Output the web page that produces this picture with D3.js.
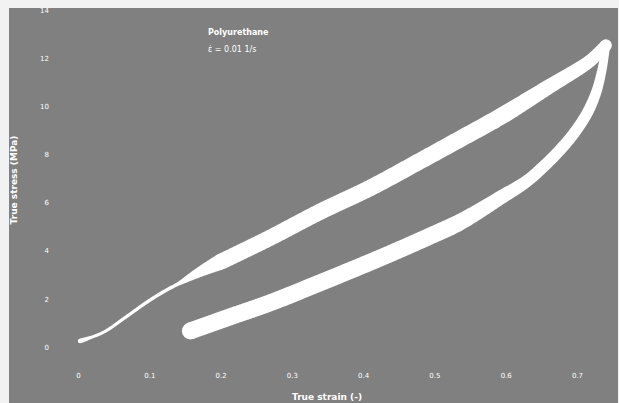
<!DOCTYPE html>
<html>
<head>
<meta charset="utf-8">
<script src="https://cdn.jsdelivr.net/npm/d3@7/dist/d3.min.js"></script>
<style>
  html, body { margin: 0; padding: 0; background: #f2f2f2; }
  svg { display: block; }
</style>
</head>
<body>
<svg id="chart" width="619" height="403"></svg>
<script>
// ---- data ----
const strainTicks = [0, 0.1, 0.2, 0.3, 0.4, 0.5, 0.6, 0.7];
const strainTickLabels = ["0", "0.1", "0.2", "0.3", "0.4", "0.5", "0.6", "0.7"];
const stressTicks = [0, 2, 4, 6, 8, 10, 12, 14];
const stressTickLabels = ["0", "2", "4", "6", "8", "10", "12", "14"];

const loadStrain = [0.003, 0.035, 0.066, 0.097, 0.122, 0.143, 0.171, 0.220, 0.269, 0.339, 0.410, 0.480, 0.536, 0.592, 0.662, 0.718, 0.741];
const loadStress = [0.25, 0.60, 1.22, 1.87, 2.33, 2.66, 3.12, 3.82, 4.53, 5.61, 6.61, 7.73, 8.64, 9.56, 10.84, 11.88, 12.55];

const unloadStrain = [0.741, 0.735, 0.727, 0.715, 0.697, 0.676, 0.651, 0.630, 0.592, 0.536, 0.494, 0.424, 0.339, 0.269, 0.213, 0.157];
const unloadStress = [12.55, 11.51, 10.59, 9.76, 8.93, 8.18, 7.44, 6.90, 6.19, 5.19, 4.61, 3.70, 2.66, 1.83, 1.25, 0.66];

const legendLines = ["Polyurethane", "ε̇ = 0.01 1/s"];
const xTitle = "True strain (-)";
const yTitle = "True stress (MPa)";

// ---- drawing ----
const svg = d3.select("#chart");
const W = 619, H = 403;

svg.append("rect").attr("x", 0).attr("y", 0).attr("width", W).attr("height", H).attr("fill", "#f2f2f2");
svg.append("rect").attr("x", 9).attr("y", 8).attr("width", 609).attr("height", H - 8).attr("fill", "#808080");

const x = d3.scaleLinear().domain([0, 0.7]).range([78, 577]);
const y = d3.scaleLinear().domain([0, 14]).range([347, 10]);

const FONT = "DejaVu Sans, sans-serif";

// axes
const xAxis = d3.axisBottom(x).tickValues(strainTicks)
  .tickFormat((d, i) => strainTickLabels[i]).tickSize(0).tickPadding(3);
const gx = svg.append("g").attr("transform", "translate(0,370)").call(xAxis);
gx.select(".domain").remove();
gx.selectAll("text").attr("fill", "#ffffff").style("font-family", FONT).style("font-size", "7px");

const yAxis = d3.axisLeft(y).tickValues(stressTicks)
  .tickFormat((d, i) => stressTickLabels[i]).tickSize(0).tickPadding(1);
const gy = svg.append("g").attr("transform", "translate(50,0)").call(yAxis);
gy.select(".domain").remove();
gy.selectAll("text").attr("fill", "#ffffff").style("font-family", FONT).style("font-size", "7px");

// axis titles
svg.append("text").attr("x", 327).attr("y", 400).attr("text-anchor", "middle")
  .attr("fill", "#ffffff").style("font-family", FONT)
  .style("font-size", "9px").style("font-weight", "bold").text(xTitle);
svg.append("text").attr("transform", "translate(17,180) rotate(-90)").attr("text-anchor", "middle")
  .attr("fill", "#ffffff").style("font-family", FONT)
  .style("font-size", "9px").style("font-weight", "bold").text(yTitle);

// legend / annotation
legendLines.forEach((t, i) => {
  svg.append("text").attr("x", 208).attr("y", 35 + i * 17)
    .attr("fill", "#ffffff").style("font-family", FONT)
    .style("font-size", "8px").style("font-weight", i === 0 ? "bold" : "normal")
    .text(t);
});

// curves drawn as ribbons whose width follows the band thickness
const line = d3.line().x(d => x(d[0])).y(d => y(d[1])).curve(d3.curveCatmullRom.alpha(0.5));

function drawRibbon(strain, stress, widthFn) {
  const pts = strain.map((s, i) => [s, stress[i]]);
  const guide = svg.append("path").attr("d", line(pts)).attr("fill", "none").attr("stroke", "none");
  const node = guide.node();
  const L = node.getTotalLength();
  const step = 1;
  const left = [], right = [];
  let first = null, last = null;
  for (let l = 0; l <= L; l += step) {
    const p = node.getPointAtLength(l);
    const p0 = node.getPointAtLength(Math.max(0, l - 1));
    const p1 = node.getPointAtLength(Math.min(L, l + 1));
    let dx = p1.x - p0.x, dy = p1.y - p0.y;
    const n = Math.hypot(dx, dy) || 1;
    dx /= n; dy /= n;
    const w = widthFn(x.invert(p.x), y.invert(p.y)) / 2;
    left.push([p.x - dy * w, p.y + dx * w]);
    right.push([p.x + dy * w, p.y - dx * w]);
    if (first === null) first = { x: p.x, y: p.y, r: w };
    last = { x: p.x, y: p.y, r: w };
  }
  guide.remove();
  const poly = left.concat(right.reverse());
  svg.append("path").attr("d", "M" + poly.map(p => p[0].toFixed(2) + "," + p[1].toFixed(2)).join("L") + "Z")
    .attr("fill", "#ffffff");
  [first, last].forEach(c => svg.append("circle").attr("cx", c.x).attr("cy", c.y).attr("r", c.r).attr("fill", "#ffffff"));
}

const loadW = d3.scaleLinear().domain([0, 0.02, 0.14, 0.165, 0.2, 0.6, 0.74]).range([5, 3, 3.5, 9, 16, 17, 12]).clamp(true);
drawRibbon(loadStrain, loadStress, (s, v) => loadW(s));

const unloadW = d3.scaleLinear().domain([12.5, 10, 7, 5, 1]).range([8, 11, 12, 17, 17]).clamp(true);
drawRibbon(unloadStrain, unloadStress, (s, v) => unloadW(v));
</script>
</body>
</html>
